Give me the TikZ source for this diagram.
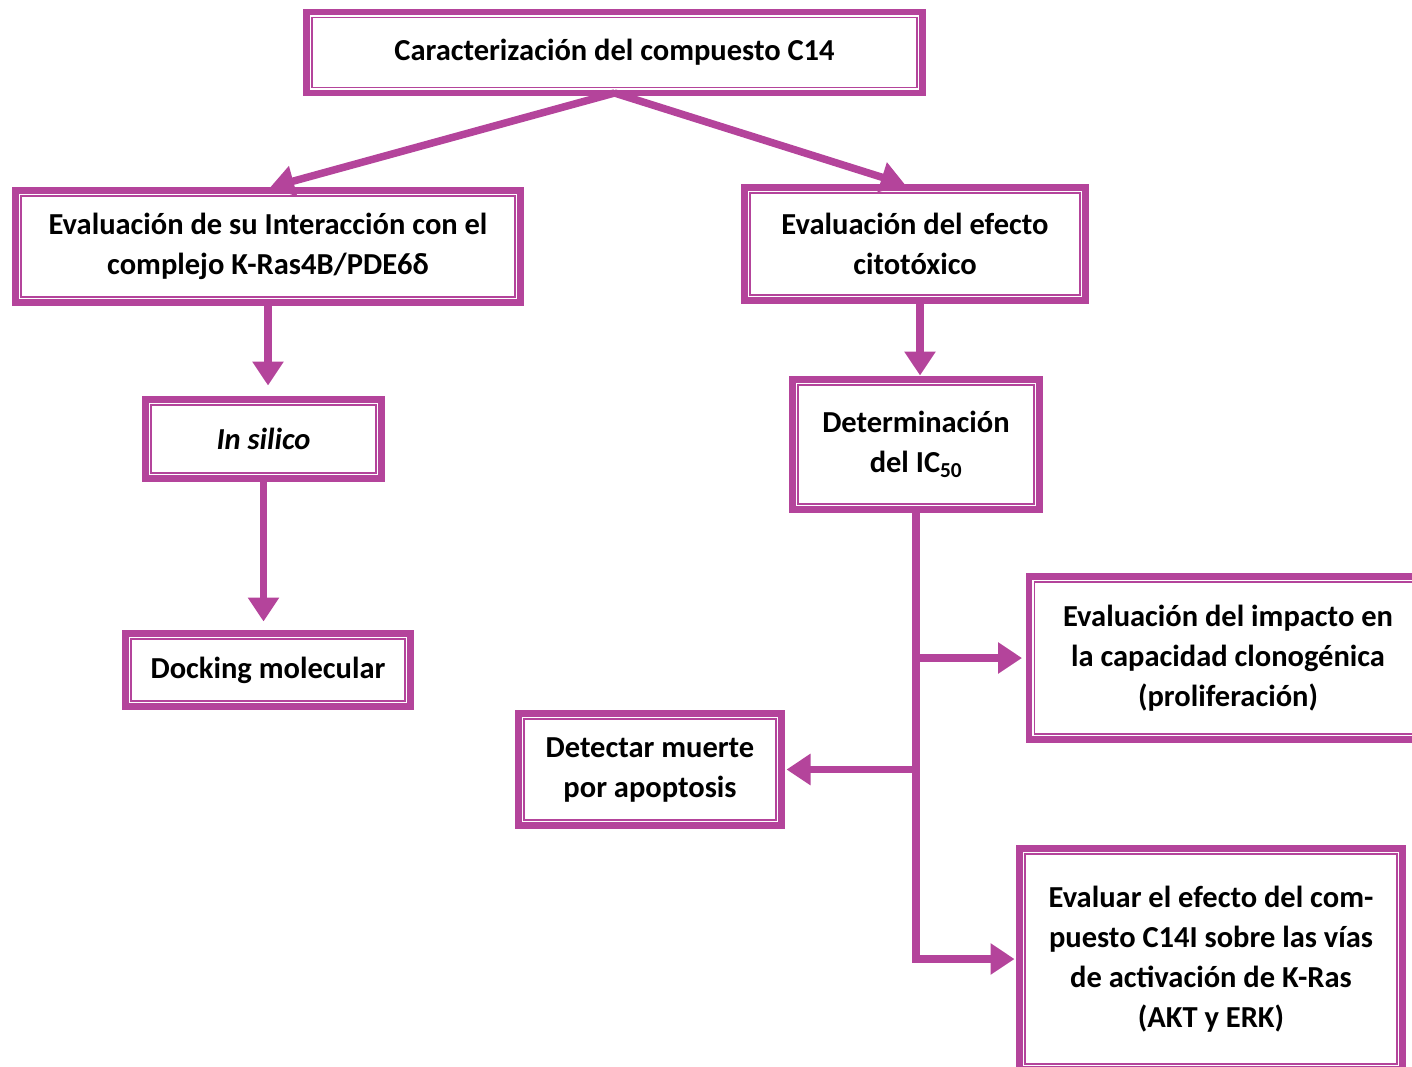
\documentclass[tikz,border=0pt]{standalone}
\usepackage{fontspec}
\setmainfont{Carlito}
\usetikzlibrary{arrows.meta}
\definecolor{flowpurple}{RGB}{180,68,155}
\tikzset{
  box/.style={draw=flowpurple, line width=6.8pt, rectangle, inner sep=0pt, outer sep=0pt,
    align=center, fill=white, font=\fontsize{30.5}{40}\selectfont\bfseries},
  flow/.style={draw=flowpurple, line width=7.5pt, line join=miter,
    -{Triangle[width=30pt,length=24pt]}},
  innerline/.style={draw=flowpurple, line width=1.4pt}
}
% thin second frame inside a box
\newcommand\innerframe[1]{\draw[innerline] ([xshift=5.6pt,yshift=-5.6pt]#1.north west) rectangle ([xshift=-5.6pt,yshift=5.6pt]#1.south east);}
\begin{document}
\begin{tikzpicture}[x=1pt,y=-1pt]
\useasboundingbox (0,0) rectangle (1412,1066);
\clip (0,0) rectangle (1412,1066);

% boxes
\node[box, minimum width=616pt, minimum height=81pt] (top) at (614.5,52.5) {Caracterización del compuesto C14};
\node[box, minimum width=505pt, minimum height=112pt] (leval) at (268,246.5) {Evaluación de su Interacción con el\\complejo K-Ras4B/PDE6δ};
\node[box, minimum width=341pt, minimum height=113pt] (reval) at (915,244) {Evaluación del efecto\\citotóxico};
\node[box, minimum width=236pt, minimum height=79pt] (ins) at (263.5,439) {\itshape In silico};
\node[box, minimum width=285pt, minimum height=73pt] (dock) at (268,670) {Docking molecular};
\node[box, minimum width=247pt, minimum height=130pt] (ic) at (916,444.5) {Determinación\\del IC\textsubscript{50}};
\node[box, minimum width=398pt, minimum height=163pt] (imp) at (1228,658) {Evaluación del impacto en\\la capacidad clonogénica\\(proliferación)};
\node[box, minimum width=263pt, minimum height=112pt] (apo) at (650,769.5) {Detectar muerte\\por apoptosis};
\node[box, minimum width=383pt, minimum height=221pt] (kras) at (1211,959) {Evaluar el efecto del com-\\puesto C14I sobre las vías\\de activación de K-Ras\\(AKT y ERK)};

\foreach \n in {top,leval,reval,ins,dock,ic,imp,apo,kras} {\innerframe{\n}}

% connectors
\draw[flow] (top.south) -- ([xshift=2pt,yshift=3pt]leval.north);
\draw[flow] (top.south) -- ([xshift=-10pt,yshift=3pt]reval.north);
\draw[flow] (leval.south) -- ([yshift=14pt]leval.south |- ins.north);
\draw[flow] (ins.south) -- ([yshift=12pt]ins.south |- dock.north);
\draw[flow] ([xshift=5pt]reval.south) -- ([xshift=5pt,yshift=4pt]reval.south |- ic.north);
\draw[flow] (ic.south) |- ([xshift=-5pt]kras.west);
\coordinate (jimp) at (ic.south |- imp.west);
\coordinate (japo) at (ic.south |- apo.east);
\draw[flow] ([xshift=-3.75pt]jimp) -- ([xshift=-7pt]imp.west);
\draw[flow] ([xshift=3.75pt]japo) -- ([xshift=5pt]apo.east);
\end{tikzpicture}
\end{document}
